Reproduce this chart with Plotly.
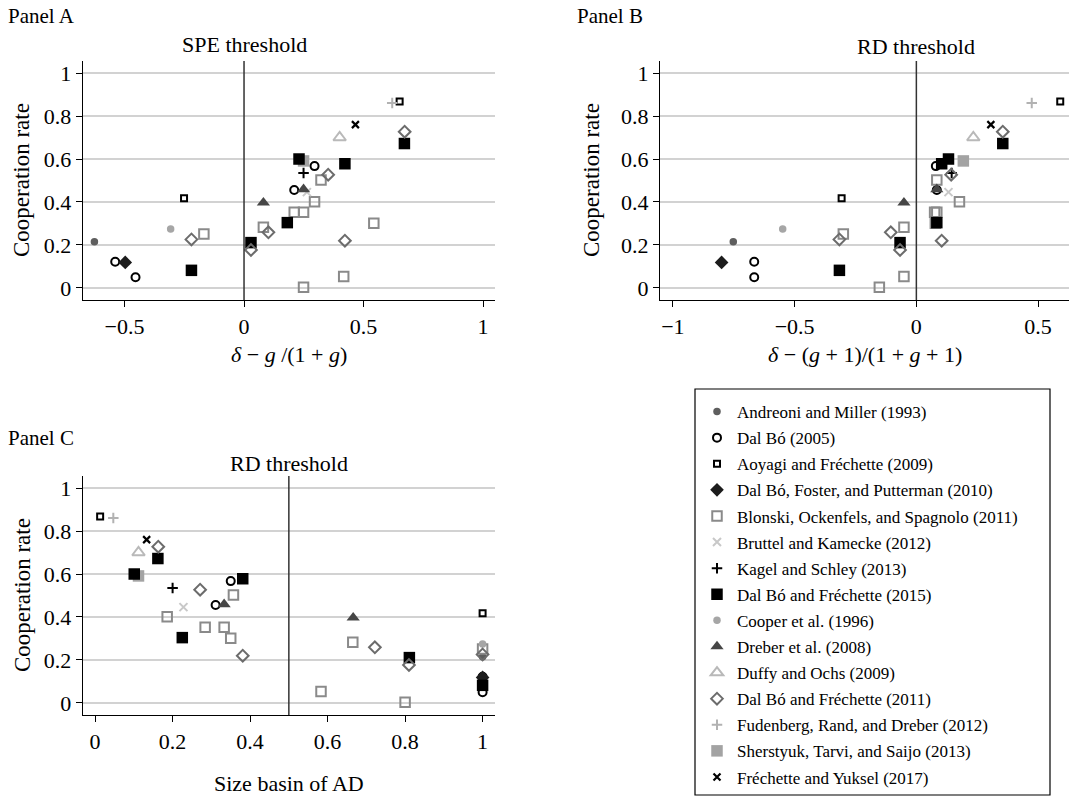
import plotly.graph_objects as go

W, H = 1071, 805
FONT = "Liberation Serif"

# ---------------- data ----------------
STUDIES = [
    "Andreoni and Miller (1993)",
    "Dal Bó (2005)",
    "Aoyagi and Fréchette (2009)",
    "Dal Bó, Foster, and Putterman (2010)",
    "Blonski, Ockenfels, and Spagnolo (2011)",
    "Bruttel and Kamecke (2012)",
    "Kagel and Schley (2013)",
    "Dal Bó and Fréchette (2015)",
    "Cooper et al. (1996)",
    "Dreber et al. (2008)",
    "Duffy and Ochs (2009)",
    "Dal Bó and Fréchette (2011)",
    "Fudenberg, Rand, and Dreber (2012)",
    "Sherstyuk, Tarvi, and Saijo (2013)",
    "Fréchette and Yuksel (2017)",
]

# cooperation rate of each treatment
COOP_RATE = {
    STUDIES[0]: [0.215],
    STUDIES[1]: [0.122, 0.050, 0.456, 0.567],
    STUDIES[2]: [0.417, 0.867],
    STUDIES[3]: [0.119],
    STUDIES[4]: [0.251, 0.282, 0.053, 0.003, 0.352, 0.352, 0.401, 0.502, 0.301],
    STUDIES[5]: [0.446],
    STUDIES[6]: [0.535],
    STUDIES[7]: [0.082, 0.211, 0.304, 0.600, 0.578, 0.672],
    STUDIES[8]: [0.274],
    STUDIES[9]: [0.397, 0.459],
    STUDIES[10]: [0.700],
    STUDIES[11]: [0.226, 0.259, 0.177, 0.220, 0.527, 0.727],
    STUDIES[12]: [0.861],
    STUDIES[13]: [0.591],
    STUDIES[14]: [0.760],
}

# Panel A: delta - g/(1+g)
SPE_GAP = {
    STUDIES[0]: [-0.626],
    STUDIES[1]: [-0.539, -0.454, 0.210, 0.295],
    STUDIES[2]: [-0.251, 0.651],
    STUDIES[3]: [-0.497],
    STUDIES[4]: [-0.168, 0.081, 0.417, 0.249, 0.210, 0.249, 0.295, 0.322, 0.543],
    STUDIES[5]: [0.263],
    STUDIES[6]: [0.249],
    STUDIES[7]: [-0.220, 0.029, 0.181, 0.230, 0.422, 0.671],
    STUDIES[8]: [-0.307],
    STUDIES[9]: [0.081, 0.249],
    STUDIES[10]: [0.400],
    STUDIES[11]: [-0.220, 0.102, 0.029, 0.422, 0.352, 0.672],
    STUDIES[12]: [0.620],
    STUDIES[13]: [0.249],
    STUDIES[14]: [0.466],
}

# Panel B: delta - (g+1)/(1+g+1)
RD_GAP = {
    STUDIES[0]: [-0.752],
    STUDIES[1]: [-0.666, -0.666, 0.084, 0.080],
    STUDIES[2]: [-0.307, 0.591],
    STUDIES[3]: [-0.800],
    STUDIES[4]: [-0.300, -0.051, -0.051, -0.152, 0.075, 0.084, 0.177, 0.084, 0.078],
    STUDIES[5]: [0.132],
    STUDIES[6]: [0.145],
    STUDIES[7]: [-0.316, -0.067, 0.084, 0.132, 0.104, 0.355],
    STUDIES[8]: [-0.549],
    STUDIES[9]: [-0.051, 0.084],
    STUDIES[10]: [0.234],
    STUDIES[11]: [-0.316, -0.105, -0.067, 0.104, 0.143, 0.355],
    STUDIES[12]: [0.474],
    STUDIES[13]: [0.193],
    STUDIES[14]: [0.306],
}

# Panel C: size of the basin of AD
BASIN_AD = {
    STUDIES[0]: [1.0],
    STUDIES[1]: [1.0, 1.0, 0.311, 0.350],
    STUDIES[2]: [1.0, 0.013],
    STUDIES[3]: [1.0],
    STUDIES[4]: [1.0, 0.665, 0.583, 0.800, 0.284, 0.333, 0.186, 0.357, 0.350],
    STUDIES[5]: [0.228],
    STUDIES[6]: [0.200],
    STUDIES[7]: [1.0, 0.811, 0.225, 0.101, 0.381, 0.162],
    STUDIES[8]: [1.0],
    STUDIES[9]: [0.666, 0.333],
    STUDIES[10]: [0.112],
    STUDIES[11]: [1.0, 0.722, 0.810, 0.381, 0.271, 0.163],
    STUDIES[12]: [0.047],
    STUDIES[13]: [0.112],
    STUDIES[14]: [0.133],
}

Y_TICKS = [0, 0.2, 0.4, 0.6, 0.8, 1]
XA_TICKS = [-0.5, 0, 0.5, 1]
XB_TICKS = [-1, -0.5, 0, 0.5]
XC_TICKS = [0, 0.2, 0.4, 0.6, 0.8, 1]

# ---------------- styles ----------------
STYLE = {
    STUDIES[0]: dict(symbol="circle", size=7.5, color="#5e5e5e", lw=0),
    STUDIES[1]: dict(symbol="circle-open", size=8, color="#000000", lw=2),
    STUDIES[2]: dict(symbol="square-open", size=6, color="#000000", lw=2),
    STUDIES[3]: dict(symbol="diamond", size=10.5, color="#1c1c1c", lw=0),
    STUDIES[4]: dict(symbol="square-open", size=9.5, color="#8a8a8a", lw=2),
    STUDIES[5]: dict(symbol="x-thin", size=8, color="#c8c8c8", lw=2),
    STUDIES[6]: dict(symbol="cross-thin", size=7.5, color="#000000", lw=2),
    STUDIES[7]: dict(symbol="square", size=11.5, color="#000000", lw=0),
    STUDIES[8]: dict(symbol="circle", size=7.5, color="#a6a6a6", lw=0),
    STUDIES[9]: dict(symbol="triangle-up", size=11.5, color="#464646", lw=0),
    STUDIES[10]: dict(symbol="triangle-up-open", size=11, color="#b9b9b9", lw=2),
    STUDIES[11]: dict(symbol="diamond-open", size=9, color="#6c6c6c", lw=2),
    STUDIES[12]: dict(symbol="cross-thin", size=7.5, color="#b2b2b2", lw=2),
    STUDIES[13]: dict(symbol="square", size=11.5, color="#a3a3a3", lw=0),
    STUDIES[14]: dict(symbol="x-thin", size=7, color="#000000", lw=2.2),
}

# draw order (Sherstyuk behind the black squares); legend order via legendrank
DRAW_ORDER = [STUDIES[13]] + [s for s in STUDIES if s != STUDIES[13]]

fig = go.Figure()
panels = [(SPE_GAP, "x", "y", True), (RD_GAP, "x2", "y2", False), (BASIN_AD, "x3", "y3", False)]
for xs, xa, ya, show in panels:
    for s in DRAW_ORDER:
        st = STYLE[s]
        fig.add_trace(go.Scatter(
            x=xs[s], y=COOP_RATE[s], mode="markers", name=s,
            xaxis=xa, yaxis=ya, legendgroup=s, showlegend=show,
            legendrank=STUDIES.index(s) + 1,
            marker=dict(symbol=st["symbol"], size=st["size"], color=st["color"],
                        line=dict(width=st["lw"], color=st["color"])),
            cliponaxis=False,
        ))

# ---------------- layout ----------------
def px_x(p):
    return p / W

def px_y(p):
    return 1 - p / H

TICK_FONT = dict(size=22, family=FONT, color="black")
common_x = dict(showline=True, linecolor="black", linewidth=1.3, ticks="outside",
                ticklen=6, tickwidth=1.3, tickcolor="black", showgrid=False,
                zeroline=False, tickfont=TICK_FONT)
common_y = dict(showline=True, linecolor="black", linewidth=1.3, ticks="outside",
                ticklen=6, tickwidth=1.3, tickcolor="black", showgrid=True,
                gridcolor="#d2d2d2", gridwidth=1.5, zeroline=False,
                tickvals=Y_TICKS, ticktext=[f"{v:g}" for v in Y_TICKS],
                tickfont=TICK_FONT)

dom_xA = [px_x(82.7), px_x(495)]
dom_xB = [px_x(660), px_x(1069)]
dom_yAB = [px_y(300), px_y(61)]
dom_yC = [px_y(715), px_y(476)]

fig.update_layout(
    width=W, height=H, margin=dict(l=0, r=0, t=0, b=0),
    paper_bgcolor="white", plot_bgcolor="white",
    font=dict(family=FONT, color="black", size=22),
    xaxis=dict(common_x, domain=dom_xA, range=[-0.675, 1.05], tickvals=XA_TICKS,
               ticktext=[f"{v:g}".replace("-", "−") for v in XA_TICKS], anchor="y"),
    yaxis=dict(common_y, domain=dom_yAB, range=[-0.056, 1.056], anchor="x"),
    xaxis2=dict(common_x, domain=dom_xB, range=[-1.053, 0.627], tickvals=XB_TICKS,
                ticktext=[f"{v:g}".replace("-", "−") for v in XB_TICKS], anchor="y2"),
    yaxis2=dict(common_y, domain=dom_yAB, range=[-0.056, 1.056], anchor="x2"),
    xaxis3=dict(common_x, domain=dom_xA, range=[-0.032, 1.032], tickvals=XC_TICKS,
                ticktext=[f"{v:g}" for v in XC_TICKS], anchor="y3"),
    yaxis3=dict(common_y, domain=dom_yC, range=[-0.056, 1.056], anchor="x3"),
    legend=dict(x=px_x(697), y=px_y(394), xanchor="left", yanchor="top",
                bgcolor="rgba(0,0,0,0)", borderwidth=0,
                font=dict(size=17, family=FONT, color="black"),
                tracegroupgap=1, traceorder="grouped"),
    showlegend=True,
)

shapes = [
    dict(type="line", xref="x", yref="y domain", x0=0, x1=0, y0=0, y1=1,
         line=dict(color="#333333", width=1.5)),
    dict(type="line", xref="x2", yref="y2 domain", x0=0, x1=0, y0=0, y1=1,
         line=dict(color="#333333", width=1.5)),
    dict(type="line", xref="x3", yref="y3 domain", x0=0.5, x1=0.5, y0=0, y1=1,
         line=dict(color="#333333", width=1.5)),
    dict(type="rect", xref="paper", yref="paper", x0=px_x(695), x1=px_x(1050),
         y0=px_y(795), y1=px_y(389), line=dict(color="black", width=1.2)),
]
fig.update_layout(shapes=shapes)

def ann(text, x, y, xref="paper", yref="paper", xanchor="center", yanchor="middle",
        size=22, angle=0):
    return dict(text=text, x=x, y=y, xref=xref, yref=yref, xanchor=xanchor,
                yanchor=yanchor, showarrow=False, textangle=angle,
                font=dict(size=size, family=FONT, color="black"))

annotations = [
    ann("Panel A", px_x(6), px_y(16), xanchor="left", size=21),
    ann("Panel B", px_x(575), px_y(16), xanchor="left", size=21),
    ann("Panel C", px_x(6), px_y(438), xanchor="left", size=21),
    ann("SPE threshold", 0, px_y(45), xref="x"),
    ann("RD threshold", 0, px_y(46), xref="x2"),
    ann("RD threshold", 0.5, px_y(463), xref="x3"),
    ann("Cooperation rate", px_x(22), px_y(180), angle=-90, size=23),
    ann("Cooperation rate", px_x(592), px_y(180), angle=-90, size=23),
    ann("Cooperation rate", px_x(22), px_y(595), angle=-90, size=23),
    ann("<i>δ</i> − <i>g</i> /(1 + <i>g</i>)", 0.5, px_y(354), xref="x domain"),
    ann("<i>δ</i> − (<i>g</i> + 1)/(1 + <i>g</i> + 1)", 0.5, px_y(354), xref="x2 domain"),
    ann("Size basin of AD", 0.5, px_y(783), xref="x3 domain"),
]
fig.update_layout(annotations=annotations)

fig.write_html("out.html")
